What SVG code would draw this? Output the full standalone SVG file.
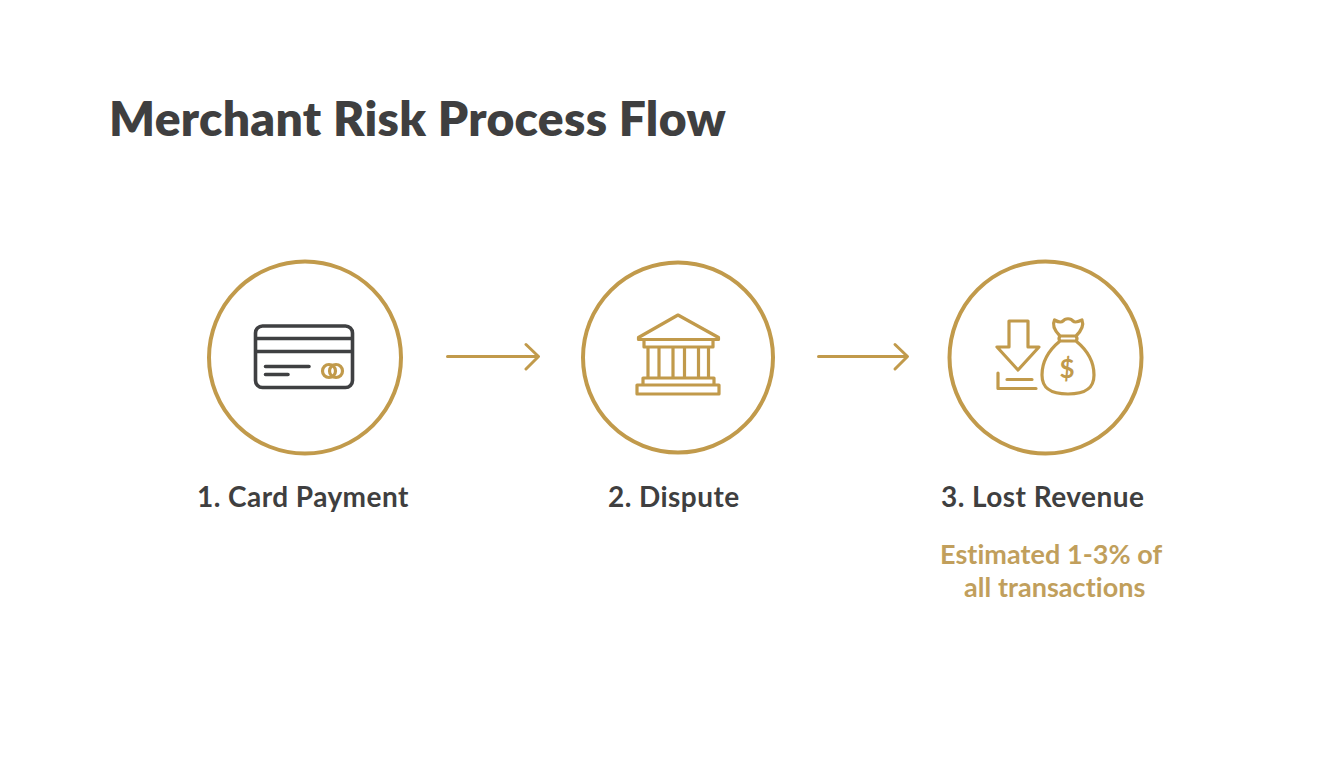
<svg xmlns="http://www.w3.org/2000/svg" width="1344" height="768" viewBox="0 0 1344 768">
<style>
.ring{fill:#fff;stroke:#c19a4b;stroke-width:4}
.g{fill:none;stroke:#c19a4b;stroke-width:3;stroke-linecap:round;stroke-linejoin:round}
.d{fill:none;stroke:#3f4042;stroke-width:3.600;stroke-linecap:round;stroke-linejoin:round}
.i{fill:none;stroke:#c19a4b;stroke-width:3.200;stroke-linecap:round;stroke-linejoin:round}
text{font-family:Lato,"Open Sans",sans-serif}
.t{font-size:48px;font-weight:800;fill:#3f3f40;letter-spacing:.3px}
.l{font-size:28px;font-weight:700;fill:#3f3f40;letter-spacing:.45px}
.s{font-size:27px;font-weight:700;fill:#c19f5c;letter-spacing:.05px}
</style>
<rect width="1344" height="768" fill="#fff"/>
<text class="t" x="109" y="136">Merchant Risk Process Flow</text>
<g id="connectors">
<path class="g" d="M447.500 356.500H538M526 344.500L538.500 356.500L526 369"/>
<path class="g" d="M818.500 356.500H907M895 344.500L907.500 356.500L895 369"/>
</g>
<g id="node1">
<circle class="ring" cx="305" cy="357.500" r="96"/>
<rect class="d" x="255.500" y="326" width="97" height="61.500" rx="7"/>
<path class="d" d="M256 338.500H352M256 351.500H352M265.500 366.500H309M265.500 374.500H288"/>
<circle class="i" cx="329" cy="371" r="6.500"/><circle class="i" cx="336" cy="371" r="6.500"/>
<text class="l" x="197" y="507">1. Card Payment</text>
</g>
<g id="node2">
<circle class="ring" cx="678" cy="357.500" r="95"/>
<path class="i" d="M678 315L638.500 337.500V339.500H718.500V337.500ZM644 339.500V347H713V339.500M648 347V378M659 347V378M673 347V378M684.500 347V378M698.500 347V378M708.500 347V378M643 378H714V385M643 378V385M637 385H719V394H637Z"/>
<text class="l" x="608" y="507">2. Dispute</text>
</g>
<g id="node3">
<circle class="ring" cx="1045.500" cy="357.500" r="96"/>
<path class="i" d="M1009 321H1028V347H1039L1018 370L997 347H1009ZM998 373V388.500H1036M1007 379.500H1032"/>
<path class="i" d="M1060 336C1054 330 1052 325 1054.500 320C1058 322 1061 323 1063 321C1065 318 1071 318 1073 321C1075 323 1078 322 1082 320C1084 325 1082 330 1076 336M1060 336H1076Q1078 339 1076 341H1060Q1058 339 1060 336ZM1060 341C1049 350 1042 362 1042 375C1042 388 1050 394 1068 394C1086 394 1094 388 1094 375C1094 362 1087 350 1076 341"/>
<text x="1067" y="378" font-size="26" font-weight="700" text-anchor="middle" fill="#c19a4b">$</text>
<text class="l" x="941" y="507">3. Lost Revenue</text>
<text class="s" x="940" y="564">Estimated 1-3% of</text>
<text class="s" x="964" y="597">all transactions</text>
</g>
</svg>
